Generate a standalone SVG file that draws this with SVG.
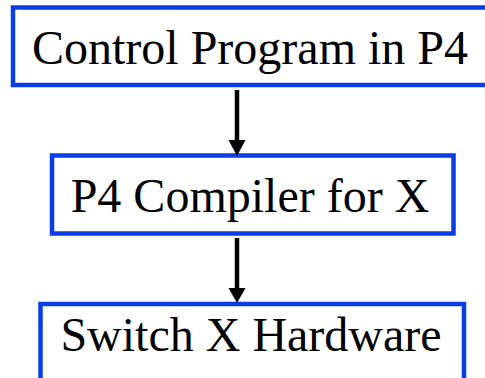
<svg xmlns="http://www.w3.org/2000/svg" width="485" height="378" viewBox="0 0 485 378">
<style>
.box{fill:#fff;stroke:#0a3de6;stroke-width:4.5}
.lbl{font-family:'Liberation Serif',serif;font-size:48px;fill:#000;text-anchor:middle}
.edge{stroke:#000;stroke-width:4.5;fill:none}
.head{fill:#000}
</style>
<rect width="485" height="378" fill="#fff"/>
<g id="node-control">
<rect class="box" x="13" y="7.5" width="490" height="77.5"/>
<text class="lbl" x="250" y="64" font-family="Liberation Serif">Control Program in P4</text>
</g>
<g id="node-compiler">
<rect class="box" x="52" y="155.5" width="401.5" height="78"/>
<text class="lbl" x="250" y="212" font-family="Liberation Serif">P4 Compiler for X</text>
</g>
<g id="node-hardware">
<rect class="box" x="40.5" y="304" width="423.5" height="100"/>
<text class="lbl" x="251" y="351" font-family="Liberation Serif">Switch X Hardware</text>
</g>
<g id="connectors">
<line class="edge" x1="237" y1="90" x2="237" y2="142"/>
<polygon class="head" points="228.5,140 245.5,140 237,156"/>
<line class="edge" x1="237" y1="238" x2="237" y2="290"/>
<polygon class="head" points="228.5,288 245.5,288 237,303"/>
</g>
</svg>
